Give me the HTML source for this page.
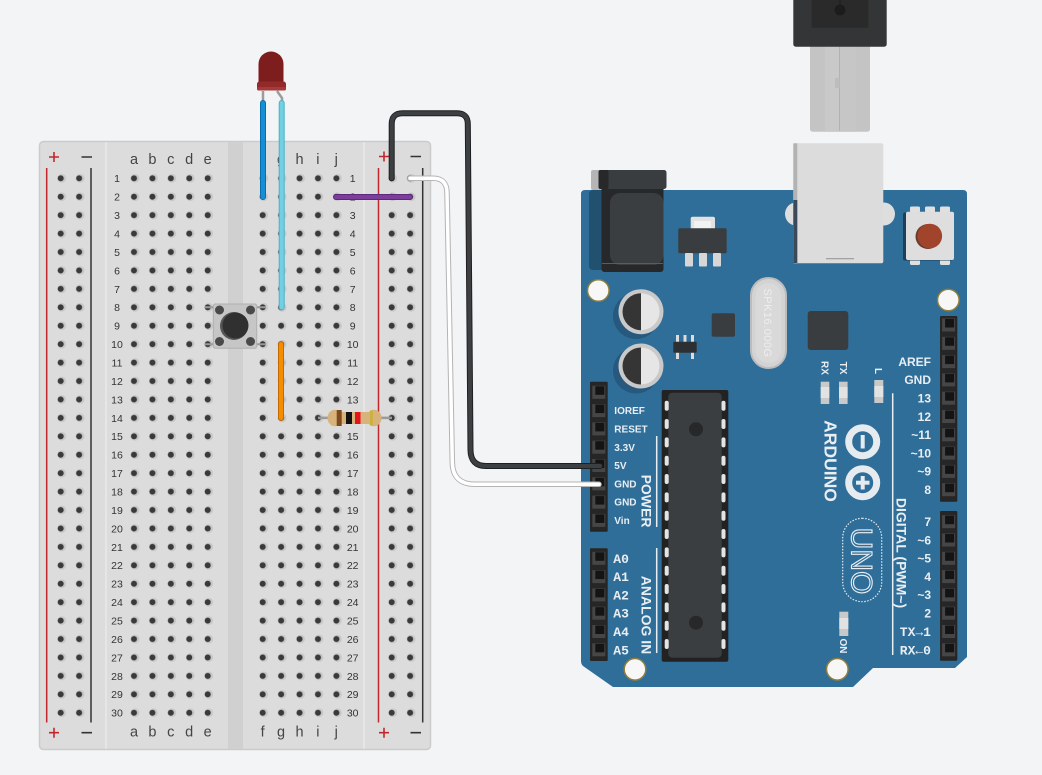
<!DOCTYPE html>
<html><head><meta charset="utf-8"><style>html,body{margin:0;padding:0;background:#f3f4f6;}svg{display:block}</style></head><body>
<svg width="1042" height="775" viewBox="0 0 1042 775" xmlns="http://www.w3.org/2000/svg" xmlns:xlink="http://www.w3.org/1999/xlink" font-family="'Liberation Sans', 'DejaVu Sans', sans-serif">
<defs>
<pattern id="hp" patternUnits="userSpaceOnUse" width="18.43" height="18.43">
<circle cx="10.2" cy="9.215" r="4.4" fill="#c8c8c8"/>
<circle cx="9.215" cy="9.215" r="3" fill="#3a3a3a"/>
</pattern>
<g id="pin"><rect x="-6.5" y="-6.5" width="13" height="13" fill="#464646"/><rect x="-3.5" y="-6" width="9" height="8.5" fill="#141414"/></g>
</defs>
<rect width="1042" height="775" fill="#f3f4f6"/>

<!-- BREADBOARD -->
<rect x="39.5" y="141.5" width="391" height="608" rx="4" fill="#dcdcdc" stroke="#cbcbcb" stroke-width="1.5"/>
<rect x="228" y="142.3" width="15" height="606.5" fill="#d0d0d0"/>
<line x1="106" y1="142.3" x2="106" y2="748.8" stroke="#eaeaea" stroke-width="1.5"/>
<line x1="364" y1="142.3" x2="364" y2="748.8" stroke="#eaeaea" stroke-width="1.5"/>
<line x1="46.7" y1="168" x2="46.7" y2="722.5" stroke="#c0282d" stroke-width="1.5"/>
<line x1="378.5" y1="168" x2="378.5" y2="722.5" stroke="#c0282d" stroke-width="1.5"/>
<line x1="91" y1="168" x2="91" y2="722.5" stroke="#333" stroke-width="1.5"/>
<line x1="422.7" y1="168" x2="422.7" y2="722.5" stroke="#333" stroke-width="1.5"/>
<g stroke-width="1.6">
<path d="M49 157H59M54 152V162M379 156.5H389M384 151.5V161.5M49 732.7H59M54 727.7V737.7M379 732.7H389M384 727.7V737.7" stroke="#c0282d"/>
<path d="M81.5 157H92M410.5 156.5H421M81.5 732.7H92M410.5 732.7H421" stroke="#333"/>
</g>
<g transform="translate(124.785,169.085)"><rect width="92.15" height="552.9" fill="url(#hp)"/></g>
<g transform="translate(253.485,169.085)"><rect width="92.15" height="552.9" fill="url(#hp)"/></g>
<g transform="translate(51.485,169.085)"><rect width="36.86" height="552.9" fill="url(#hp)"/></g>
<g transform="translate(382.485,169.085)"><rect width="36.86" height="552.9" fill="url(#hp)"/></g>

<g font-size="14.5" fill="#444" text-anchor="middle">
<text y="164"><tspan x="134">a</tspan><tspan x="152.4">b</tspan><tspan x="170.8">c</tspan><tspan x="189.2">d</tspan><tspan x="207.7">e</tspan><tspan x="262.7">f</tspan><tspan x="281.1">g</tspan><tspan x="299.5">h</tspan><tspan x="317.9">i</tspan><tspan x="336.3">j</tspan></text>
<text y="736.5"><tspan x="134">a</tspan><tspan x="152.4">b</tspan><tspan x="170.8">c</tspan><tspan x="189.2">d</tspan><tspan x="207.7">e</tspan><tspan x="262.7">f</tspan><tspan x="281.1">g</tspan><tspan x="299.5">h</tspan><tspan x="317.9">i</tspan><tspan x="336.3">j</tspan></text>
</g>
<g font-size="10.5" fill="#333" text-anchor="middle">
<text><tspan x="117" y="182.2">1</tspan><tspan x="117" y="200.6">2</tspan><tspan x="117" y="219.1">3</tspan><tspan x="117" y="237.5">4</tspan><tspan x="117" y="255.9">5</tspan><tspan x="117" y="274.4">6</tspan><tspan x="117" y="292.8">7</tspan><tspan x="117" y="311.2">8</tspan><tspan x="117" y="329.6">9</tspan><tspan x="117" y="348.1">10</tspan><tspan x="117" y="366.5">11</tspan><tspan x="117" y="384.9">12</tspan><tspan x="117" y="403.4">13</tspan><tspan x="117" y="421.8">14</tspan><tspan x="117" y="440.2">15</tspan><tspan x="117" y="458.7">16</tspan><tspan x="117" y="477.1">17</tspan><tspan x="117" y="495.5">18</tspan><tspan x="117" y="513.9">19</tspan><tspan x="117" y="532.4">20</tspan><tspan x="117" y="550.8">21</tspan><tspan x="117" y="569.2">22</tspan><tspan x="117" y="587.7">23</tspan><tspan x="117" y="606.1">24</tspan><tspan x="117" y="624.5">25</tspan><tspan x="117" y="643">26</tspan><tspan x="117" y="661.4">27</tspan><tspan x="117" y="679.8">28</tspan><tspan x="117" y="698.2">29</tspan><tspan x="117" y="716.7">30</tspan></text>
<text><tspan x="352.7" y="182.2">1</tspan><tspan x="352.7" y="200.6">2</tspan><tspan x="352.7" y="219.1">3</tspan><tspan x="352.7" y="237.5">4</tspan><tspan x="352.7" y="255.9">5</tspan><tspan x="352.7" y="274.4">6</tspan><tspan x="352.7" y="292.8">7</tspan><tspan x="352.7" y="311.2">8</tspan><tspan x="352.7" y="329.6">9</tspan><tspan x="352.7" y="348.1">10</tspan><tspan x="352.7" y="366.5">11</tspan><tspan x="352.7" y="384.9">12</tspan><tspan x="352.7" y="403.4">13</tspan><tspan x="352.7" y="421.8">14</tspan><tspan x="352.7" y="440.2">15</tspan><tspan x="352.7" y="458.7">16</tspan><tspan x="352.7" y="477.1">17</tspan><tspan x="352.7" y="495.5">18</tspan><tspan x="352.7" y="513.9">19</tspan><tspan x="352.7" y="532.4">20</tspan><tspan x="352.7" y="550.8">21</tspan><tspan x="352.7" y="569.2">22</tspan><tspan x="352.7" y="587.7">23</tspan><tspan x="352.7" y="606.1">24</tspan><tspan x="352.7" y="624.5">25</tspan><tspan x="352.7" y="643">26</tspan><tspan x="352.7" y="661.4">27</tspan><tspan x="352.7" y="679.8">28</tspan><tspan x="352.7" y="698.2">29</tspan><tspan x="352.7" y="716.7">30</tspan></text>
</g>

<!-- pushbutton -->
<path d="M205 307.3H266M205 344.2H266" stroke="#9a9a9a" stroke-width="2"/>
<rect x="213.3" y="304" width="43.4" height="44.3" rx="2" fill="#c6c6c6" stroke="#b0b0b0" stroke-width="1"/>
<circle cx="234" cy="326" r="14" fill="#555"/>
<circle cx="235.5" cy="325.5" r="13" fill="#303030"/>
<circle cx="219.5" cy="310" r="4.5" fill="#4a4a4a"/><circle cx="250.5" cy="310" r="4.5" fill="#4a4a4a"/>
<circle cx="219.5" cy="341.5" r="4.5" fill="#4a4a4a"/><circle cx="250.5" cy="341.5" r="4.5" fill="#4a4a4a"/>

<!-- LED -->
<path d="M263 91V104M277 91L282 98V104" stroke="#9c9c9c" stroke-width="2.5" fill="none"/>
<path d="M258.5 88V64A12.5 12.5 0 0 1 283.5 64V88Z" fill="#7e1d1d"/>
<rect x="257" y="81.5" width="29" height="9" rx="2.5" fill="#922a2a"/>
<rect x="257" y="87" width="29" height="3.5" rx="1.5" fill="#a63a3a"/>

<!-- wires on breadboard -->
<g stroke-linecap="round" fill="none">
<path d="M263 103V197" stroke="#0c6ea8" stroke-width="6"/><path d="M263 103V197" stroke="#148fd6" stroke-width="4"/>
<path d="M281.7 103V307.3" stroke="#4bb1c7" stroke-width="6"/><path d="M281.7 103V307.3" stroke="#72d0e3" stroke-width="4"/>
<path d="M281 344.2V417.9" stroke="#c46a00" stroke-width="6"/><path d="M281 344.2V417.9" stroke="#f68c00" stroke-width="4"/>
<path d="M336 197H410" stroke="#5b2a78" stroke-width="6"/><path d="M336 197H410" stroke="#7c3d9c" stroke-width="4"/>
</g>

<!-- resistor -->
<line x1="318" y1="417.9" x2="392" y2="417.9" stroke="#9a9a9a" stroke-width="2.5"/>
<ellipse cx="335" cy="418" rx="7.5" ry="8.3" fill="#d8b27b"/>
<ellipse cx="374" cy="418" rx="7.5" ry="8.3" fill="#d8b27b"/>
<rect x="334" y="412" width="41" height="12" fill="#d8b27b"/>
<rect x="336.7" y="410" width="5" height="16" fill="#7c4a1c"/>
<rect x="346" y="412" width="6" height="12" fill="#111"/>
<rect x="355" y="412" width="5.5" height="12" fill="#e3141b"/>
<rect x="370" y="410.5" width="2.8" height="15" fill="#c9b23a"/>

<!-- ARDUINO BOARD -->
<path d="M581 194Q581 190 585 190H963Q967 190 967 194V657L955 668H873L853 687H613L583 666Q581 664 581 661Z" fill="#2f6e99"/>
<!-- power jack -->
<rect x="589" y="190" width="20" height="80" rx="4" fill="#22506f"/>
<rect x="591" y="170" width="12" height="20" rx="2" fill="#b5b5b5"/>
<rect x="601.5" y="186" width="62" height="86" rx="3" fill="#26282a"/>
<rect x="610" y="193" width="53.5" height="72" rx="10" fill="#3b3e41"/>
<line x1="602" y1="263.5" x2="663" y2="263.5" stroke="#5a5d60" stroke-width="1"/>
<rect x="598.5" y="170" width="68" height="19" rx="2.5" fill="#3a3d40"/>
<rect x="598.5" y="170" width="10" height="19" rx="2" fill="#26282a"/>
<!-- regulator -->
<rect x="690.7" y="216.7" width="24.3" height="14" rx="2" fill="#e2e2e2"/>
<rect x="694" y="221" width="17" height="7" fill="#f2f2f2"/>
<rect x="678.3" y="228.3" width="48.4" height="25" rx="1.5" fill="#3a3d40"/>
<rect x="685" y="253" width="8" height="13.5" rx="1" fill="#d6d6d6"/>
<rect x="699" y="253" width="8" height="13.5" rx="1" fill="#d6d6d6"/>
<rect x="713" y="253" width="8" height="13.5" rx="1" fill="#d6d6d6"/>
<!-- USB plug (cable) -->
<rect x="810" y="44" width="60" height="87.7" rx="2.5" fill="#c4c4c4"/>
<rect x="825" y="44" width="14" height="87.7" fill="#c9c9c9"/>
<rect x="840" y="44" width="16" height="87.7" fill="#c6c6c6"/>
<line x1="839.5" y1="44" x2="839.5" y2="131" stroke="#b2b2b2" stroke-width="1"/>
<rect x="835" y="78" width="4.5" height="10" fill="#bdbdbd"/>
<rect x="793.3" y="-5" width="93.4" height="51.7" rx="2.5" fill="#343537"/>
<rect x="811.7" y="-2" width="56.6" height="29.7" fill="#2a2a2a"/>
<circle cx="840" cy="10" r="5.5" fill="#1c1c1c"/>
<line x1="840" y1="0" x2="840" y2="6" stroke="#1c1c1c" stroke-width="1"/>
<!-- USB socket -->
<ellipse cx="796" cy="214" rx="11" ry="11.5" fill="#dedede"/>
<ellipse cx="884" cy="214" rx="11" ry="11.5" fill="#dedede"/>
<rect x="793.3" y="143.3" width="90" height="120" rx="2" fill="#dcdcdc"/>
<rect x="793.3" y="143.3" width="4" height="120" fill="#b3b3b3"/>
<rect x="793.3" y="200" width="4" height="63" fill="#3a4a58"/>
<line x1="826" y1="258.7" x2="854" y2="258.7" stroke="#9a9a9a" stroke-width="1.2"/>
<!-- reset button -->
<rect x="910" y="206.5" width="10" height="6" rx="1.5" fill="#e0e0e0"/><rect x="925" y="206.5" width="10" height="6" rx="1.5" fill="#e0e0e0"/><rect x="940" y="206.5" width="10" height="6" rx="1.5" fill="#e0e0e0"/>
<rect x="910" y="259" width="10" height="6" rx="1.5" fill="#e0e0e0"/><rect x="940" y="259" width="10" height="6" rx="1.5" fill="#e0e0e0"/>
<rect x="903" y="212.5" width="50" height="48" rx="2" fill="#1f3f57"/>
<rect x="906" y="211.7" width="48" height="48.3" rx="2" fill="#dedede"/>
<circle cx="928" cy="236.5" r="12.5" fill="#6b3a2e"/>
<circle cx="929.8" cy="236" r="12.3" fill="#a1442c"/>

<!-- mounting holes -->
<g fill="#f7f7f8" stroke="#8f7d3c" stroke-width="1.5">
<circle cx="598.3" cy="290.5" r="10.8"/>
<circle cx="948.3" cy="300" r="10.8"/>
<circle cx="635" cy="669.3" r="10.8"/>
<circle cx="837.3" cy="669.3" r="10.8"/>
</g>

<!-- capacitors -->
<circle cx="636" cy="316" r="23" fill="#26597d"/>
<circle cx="641" cy="311.7" r="22.5" fill="#c9c9c9"/>
<circle cx="641" cy="311.7" r="18.5" fill="#e6e6e6"/>
<path d="M641 293.2A18.5 18.5 0 0 0 641 330.2Z" fill="#353535"/>
<circle cx="636" cy="370.5" r="23" fill="#26597d"/>
<circle cx="641" cy="366" r="22.5" fill="#c9c9c9"/>
<circle cx="641" cy="366" r="18.5" fill="#e6e6e6"/>
<path d="M641 347.5A18.5 18.5 0 0 0 641 384.5Z" fill="#353535"/>

<!-- small chips -->
<rect x="711.7" y="313.3" width="23.3" height="23.4" rx="2" fill="#3a3d40"/>
<g fill="#dcdcdc"><rect x="676" y="335" width="3" height="7"/><rect x="683.5" y="335" width="3" height="7"/><rect x="691" y="335" width="3" height="7"/><rect x="676" y="352" width="3" height="7"/><rect x="691" y="352" width="3" height="7"/></g>
<rect x="673.3" y="341.7" width="23.4" height="11" rx="1" fill="#2d3033"/>
<rect x="807.7" y="311" width="40.6" height="39" rx="3" fill="#3a3d40"/>

<!-- crystal -->
<rect x="751" y="278" width="35" height="90" rx="17.5" fill="#d3d3d3" stroke="#bcbcbc" stroke-width="2"/>
<rect x="755.5" y="283" width="26" height="80" rx="13" fill="#d9d9d9"/>
<text transform="translate(768,323) rotate(90)" y="3.8" text-anchor="middle" font-size="11" fill="#eeeeee" letter-spacing="0.5">SPK16.000G</text>

<!-- RX TX L LEDs -->
<g fill="#c9c9c9"><rect x="820.7" y="381.7" width="8.6" height="22.3"/><rect x="839" y="381.7" width="8.6" height="22.3"/><rect x="874.3" y="380" width="9" height="23"/></g>
<g fill="#e2e2e2"><rect x="820.7" y="387" width="8.6" height="11"/><rect x="839" y="387" width="8.6" height="11"/><rect x="874.3" y="386" width="9" height="11"/></g>
<g fill="#e9eef3" font-weight="bold" font-size="10" text-anchor="middle">
<text transform="translate(825,368) rotate(90)" y="3.5">RX</text>
<text transform="translate(843.3,368) rotate(90)" y="3.5">TX</text>
<text transform="translate(878.5,371) rotate(90)" y="3.5">L</text>
</g>

<!-- main chip -->
<rect x="661.7" y="390" width="66.6" height="271.7" rx="2" fill="#222"/>
<rect x="668.3" y="392.7" width="53.4" height="265" rx="4" fill="#3b3e41"/>
<g fill="#e4e4e4">
<rect x="664.7" y="400.7" width="4" height="10" rx="2"/><rect x="664.7" y="419" width="4" height="10" rx="2"/><rect x="664.7" y="437.4" width="4" height="10" rx="2"/><rect x="664.7" y="455.7" width="4" height="10" rx="2"/><rect x="664.7" y="474" width="4" height="10" rx="2"/><rect x="664.7" y="492.4" width="4" height="10" rx="2"/><rect x="664.7" y="510.7" width="4" height="10" rx="2"/><rect x="664.7" y="529" width="4" height="10" rx="2"/><rect x="664.7" y="547.4" width="4" height="10" rx="2"/><rect x="664.7" y="565.7" width="4" height="10" rx="2"/><rect x="664.7" y="584" width="4" height="10" rx="2"/><rect x="664.7" y="602.4" width="4" height="10" rx="2"/><rect x="664.7" y="620.7" width="4" height="10" rx="2"/><rect x="664.7" y="639" width="4" height="10" rx="2"/>
<rect x="721.5" y="400.7" width="4" height="10" rx="2"/><rect x="721.5" y="419" width="4" height="10" rx="2"/><rect x="721.5" y="437.4" width="4" height="10" rx="2"/><rect x="721.5" y="455.7" width="4" height="10" rx="2"/><rect x="721.5" y="474" width="4" height="10" rx="2"/><rect x="721.5" y="492.4" width="4" height="10" rx="2"/><rect x="721.5" y="510.7" width="4" height="10" rx="2"/><rect x="721.5" y="529" width="4" height="10" rx="2"/><rect x="721.5" y="547.4" width="4" height="10" rx="2"/><rect x="721.5" y="565.7" width="4" height="10" rx="2"/><rect x="721.5" y="584" width="4" height="10" rx="2"/><rect x="721.5" y="602.4" width="4" height="10" rx="2"/><rect x="721.5" y="620.7" width="4" height="10" rx="2"/><rect x="721.5" y="639" width="4" height="10" rx="2"/>
</g>
<circle cx="696" cy="429.3" r="7" fill="#262829"/>
<circle cx="696" cy="622.7" r="7" fill="#262829"/>

<!-- headers -->
<rect x="590" y="381.7" width="17.7" height="150" rx="1" fill="#262626"/>
<rect x="590" y="548.3" width="17.7" height="112.7" rx="1" fill="#262626"/>
<rect x="940" y="316" width="17.3" height="185.7" rx="1" fill="#262626"/>
<rect x="940" y="511" width="17.3" height="149.7" rx="1" fill="#262626"/>
<use xlink:href="#pin" x="598.8" y="392.3"/><use xlink:href="#pin" x="598.8" y="410.6"/><use xlink:href="#pin" x="598.8" y="428.9"/><use xlink:href="#pin" x="598.8" y="447.2"/><use xlink:href="#pin" x="598.8" y="465.5"/><use xlink:href="#pin" x="598.8" y="483.8"/><use xlink:href="#pin" x="598.8" y="502.1"/><use xlink:href="#pin" x="598.8" y="520.4"/>
<use xlink:href="#pin" x="598.8" y="558.3"/><use xlink:href="#pin" x="598.8" y="576.6"/><use xlink:href="#pin" x="598.8" y="594.9"/><use xlink:href="#pin" x="598.8" y="613.2"/><use xlink:href="#pin" x="598.8" y="631.5"/><use xlink:href="#pin" x="598.8" y="649.8"/>
<use xlink:href="#pin" x="948.6" y="325"/><use xlink:href="#pin" x="948.6" y="343.3"/><use xlink:href="#pin" x="948.6" y="361.6"/><use xlink:href="#pin" x="948.6" y="379.9"/><use xlink:href="#pin" x="948.6" y="398.2"/><use xlink:href="#pin" x="948.6" y="416.5"/><use xlink:href="#pin" x="948.6" y="434.8"/><use xlink:href="#pin" x="948.6" y="453.1"/><use xlink:href="#pin" x="948.6" y="471.4"/><use xlink:href="#pin" x="948.6" y="489.7"/>
<use xlink:href="#pin" x="948.6" y="521.7"/><use xlink:href="#pin" x="948.6" y="540"/><use xlink:href="#pin" x="948.6" y="558.3"/><use xlink:href="#pin" x="948.6" y="576.6"/><use xlink:href="#pin" x="948.6" y="594.9"/><use xlink:href="#pin" x="948.6" y="613.2"/><use xlink:href="#pin" x="948.6" y="631.5"/><use xlink:href="#pin" x="948.6" y="649.8"/>

<!-- header labels -->
<g fill="#e9eef3" font-weight="bold">
<g font-size="10">
<text x="614.3" y="414.2">IOREF</text><text x="614.3" y="432.5">RESET</text><text x="614.3" y="450.8">3.3V</text><text x="614.3" y="469.1">5V</text><text x="614.3" y="487.4">GND</text><text x="614.3" y="505.7">GND</text><text x="614.3" y="524">Vin</text>
</g>
<g font-family="'Liberation Mono', 'DejaVu Sans Mono', monospace" font-size="13">
<text x="613.3" y="562.8">A0</text><text x="613.3" y="581.1">A1</text><text x="613.3" y="599.4">A2</text><text x="613.3" y="617.7">A3</text><text x="613.3" y="636">A4</text><text x="613.3" y="654.3">A5</text>
</g>
<g font-size="12" text-anchor="end">
<text x="931" y="365.9">AREF</text><text x="931" y="384.2">GND</text><text x="931" y="402.5">13</text><text x="931" y="420.8">12</text><text x="931" y="439.1">~11</text><text x="931" y="457.4">~10</text><text x="931" y="475.7">~9</text><text x="931" y="494">8</text>
<text x="931" y="526">7</text><text x="931" y="544.3">~6</text><text x="931" y="562.6">~5</text><text x="931" y="580.9">4</text><text x="931" y="599.2">~3</text><text x="931" y="617.5">2</text>
</g>
<g font-family="'Liberation Mono', 'DejaVu Sans Mono', monospace" font-size="13" text-anchor="end">
<text x="931" y="636">TX→1</text><text x="931" y="654.3">RX←0</text>
</g>
<g font-size="14" text-anchor="middle">
<text transform="translate(646.7,501) rotate(90)" y="5">POWER</text>
<text transform="translate(646.7,615) rotate(90)" y="5">ANALOG IN</text>
<text transform="translate(901.7,553) rotate(90)" y="5">DIGITAL (PWM~)</text>
</g>
<text transform="translate(830.5,461) rotate(90)" y="6.2" font-size="17.5" text-anchor="middle">ARDUINO</text>
<text transform="translate(843.7,646) rotate(90)" y="3.5" font-size="10" text-anchor="middle">ON</text>
</g>
<g stroke="#e9eef3" stroke-width="1.5">
<line x1="656.7" y1="436" x2="656.7" y2="527"/>
<line x1="656.7" y1="548" x2="656.7" y2="653"/>
<line x1="892.7" y1="393.3" x2="892.7" y2="655"/>
</g>
<!-- logo -->
<g fill="none" stroke="#e6ebf0" stroke-width="7">
<circle cx="862.7" cy="441.7" r="14"/>
<circle cx="862.7" cy="482.7" r="14"/>
</g>
<g stroke="#e6ebf0" stroke-width="4">
<line x1="862.7" y1="435" x2="862.7" y2="448.5"/>
<line x1="862.7" y1="476" x2="862.7" y2="489.5"/><line x1="856" y1="482.7" x2="869.5" y2="482.7"/>
</g>
<rect x="842.7" y="518.3" width="39" height="83.4" rx="19.5" fill="none" stroke="#e6ebf0" stroke-width="1.2" stroke-dasharray="1.5 1.5"/>
<text transform="translate(862,561) rotate(90)" y="10.5" font-size="30" text-anchor="middle" fill="#2f6e99" stroke="#e9eef3" stroke-width="1.1">UNO</text>
<!-- ON led -->
<rect x="839.3" y="611.7" width="9" height="24.3" fill="#c9c9c9"/>
<rect x="839.3" y="618" width="9" height="11" fill="#e2e2e2"/>

<!-- long wires -->
<g fill="none" stroke-linecap="round" stroke-linejoin="round">
<path d="M391.7 178.3V124Q391.7 113.3 402.5 113.3H457Q467.8 113.3 467.8 124L470.5 450Q470.7 466 486 466H600" stroke="#1e1f20" stroke-width="6"/>
<path d="M391.7 178.3V124Q391.7 113.3 402.5 113.3H457Q467.8 113.3 467.8 124L470.5 450Q470.7 466 486 466H600" stroke="#3d4043" stroke-width="4"/>
<path d="M410 178.3H433Q447 178.3 447 193L452.3 462Q452.5 484.3 475 484.3H599" stroke="#b4b4b4" stroke-width="5.5"/>
<path d="M410 178.3H433Q447 178.3 447 193L452.3 462Q452.5 484.3 475 484.3H599" stroke="#ffffff" stroke-width="3.5"/>
</g>
</svg>
</body></html>
